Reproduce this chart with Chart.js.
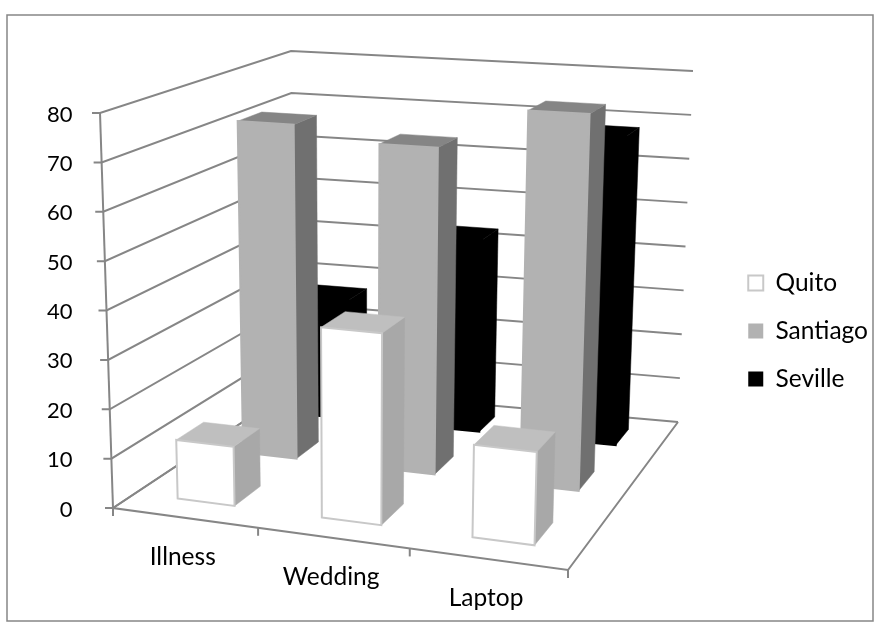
<!DOCTYPE html>
<html>
<head>
<meta charset="utf-8">
<title>3D columns</title>
<script src="https://cdn.jsdelivr.net/npm/chart.js@4"></script>
<style>
    html, body { margin: 0; background: #fff; overflow: hidden; }
    canvas { display: block; }
</style>
</head>
<body>
<canvas id="chart" width="880" height="635"></canvas>
<script>
const categories = ['Illness', 'Wedding', 'Laptop'];
const seriesNames = ['Quito', 'Santiago', 'Seville'];
const quito = [12, 38, 18];
const santiago = [72, 69, 78];
const seville = [27, 43, 68];

const frontColors = ['#ffffff', '#b2b2b2', '#000000'];
const sideColors = ['#a8a8a8', '#707070', '#000000'];
const topColors = ['#bfbfbf', '#858585', '#000000'];
const edgeColors = ['#c8c8c8', '#b2b2b2', '#000000'];
const lineColor = '#868686';
const fontName = 'Lato, "Open Sans", sans-serif';

// screen corners of the 3d box: b = floor, t = value 80; l/r, front/back
const box = {
    blf: [113, 508], brf: [568, 570], brb: [678, 422], blb: [294, 388],
    tlf: [100, 113], trf: [580, 143], trb: [693, 71], tlb: [291, 51],
};
const rowHalfDepth = 0.066;

const mix = (a, b, t) => [a[0] + (b[0] - a[0]) * t, a[1] + (b[1] - a[1]) * t];

// perspective spacing along the width and the depth of the floor
const warpU = (u) => u - 0.065 * u * (1 - u);
const warpW = (w) => w + 0.27 * w * (1 - w);

// u along categories, v up the value axis, w into the depth (all 0..1)
const project = (u, v, w) => {
    const uu = warpU(u);
    const ww = warpW(w);
    const bottom = mix(mix(box.blf, box.brf, uu), mix(box.blb, box.brb, uu), ww);
    const top = mix(mix(box.tlf, box.trf, uu), mix(box.tlb, box.trb, uu), ww);
    return mix(bottom, top, v);
};

const polygon = (ctx, points, fill, stroke) => {
    ctx.beginPath();
    points.forEach((p, i) => (i ? ctx.lineTo(p[0], p[1]) : ctx.moveTo(p[0], p[1])));
    ctx.closePath();
    ctx.fillStyle = fill;
    ctx.fill();
    ctx.strokeStyle = stroke || fill;
    ctx.lineWidth = stroke ? 2 : 0.5;
    ctx.stroke();
};

const polyline = (ctx, points) => {
    ctx.beginPath();
    points.forEach((p, i) => (i ? ctx.lineTo(p[0], p[1]) : ctx.moveTo(p[0], p[1])));
    ctx.stroke();
};

const drawFrame = (chart) => {
    const { ctx, scales } = chart;
    const y = scales.y;
    ctx.strokeStyle = lineColor;
    ctx.lineWidth = 2;
    y.ticks.forEach((tick) => {
        const v = (y.bottom - y.getPixelForValue(tick.value)) / (y.bottom - y.top);
        const front = project(0, v, 0);
        polyline(ctx, [[front[0] - 8, front[1]], front, project(0, v, 1), project(1, v, 1)]);
    });
    polyline(ctx, [project(0, 0, 0), project(0, 1, 0)]);
    polyline(ctx, [project(0, 0, 1), project(0, 0, 0), project(1, 0, 0), project(1, 0, 1)]);
    for (let i = 0; i <= categories.length; i++) {
        const p = project(i / categories.length, 0, 0);
        polyline(ctx, [p, [p[0], p[1] + 8]]);
    }
};

const drawBars = (chart) => {
    const { ctx, scales, chartArea } = chart;
    const width = chartArea.right - chartArea.left;
    const height = chartArea.bottom - chartArea.top;
    for (let d = chart.data.datasets.length - 1; d >= 0; d--) {
        const z = (d + 0.5) / chart.data.datasets.length;
        const w0 = z - rowHalfDepth;
        const w1 = z + rowHalfDepth;
        chart.getDatasetMeta(d).data.forEach((bar) => {
            const u0 = (bar.x - bar.width / 2 - chartArea.left) / width;
            const u1 = (bar.x + bar.width / 2 - chartArea.left) / width;
            const v = (scales.y.bottom - bar.y) / height;
            polygon(ctx, [project(u1, 0, w0), project(u1, 0, w1), project(u1, v, w1), project(u1, v, w0)], sideColors[d]);
            polygon(ctx, [project(u0, v, w0), project(u1, v, w0), project(u1, v, w1), project(u0, v, w1)], topColors[d]);
            polygon(ctx, [project(u0, 0, w0), project(u1, 0, w0), project(u1, v, w0), project(u0, v, w0)], frontColors[d], edgeColors[d]);
        });
    }
};

const drawCategoryLabels = (chart) => {
    const { ctx, scales } = chart;
    ctx.fillStyle = '#000';
    ctx.font = '24.5px ' + fontName;
    ctx.textAlign = 'center';
    ctx.textBaseline = 'middle';
    categories.forEach((name, i) => {
        const u = (scales.x.getPixelForValue(i) - chart.chartArea.left) / (chart.chartArea.right - chart.chartArea.left);
        const p = project(u, 0, 0);
        ctx.fillText(scales.x.getLabelForValue(i), p[0] - 2, p[1] + 39);
    });
};

const box3d = {
    id: 'box3d',
    afterLayout(chart) {
        // legend sits lower than the middle of the plot
        chart.legend.top += 19;
        chart.legend.bottom += 19;
    },
    beforeDraw(chart) {
        const { ctx } = chart;
        ctx.save();
        ctx.strokeStyle = lineColor;
        ctx.lineWidth = 1.5;
        ctx.strokeRect(7, 15, 866, 606);
        ctx.restore();
    },
    beforeDatasetsDraw(chart) {
        const { ctx } = chart;
        ctx.save();
        drawFrame(chart);
        drawBars(chart);
        drawCategoryLabels(chart);
        ctx.restore();
        return false;
    },
};

new Chart(document.getElementById('chart').getContext('2d'), {
    type: 'bar',
    data: {
        labels: categories,
        datasets: [quito, santiago, seville].map((values, i) => ({
            label: seriesNames[i],
            data: values,
            backgroundColor: i === 0 ? '#ffffff' : frontColors[i],
            borderColor: edgeColors[i],
            borderWidth: i === 0 ? 2 : 0,
            grouped: false,
            barPercentage: 0.4,
            categoryPercentage: 1,
        })),
    },
    options: {
        responsive: false,
        animation: false,
        layout: { padding: { top: 114.5, bottom: 125.5, left: 27, right: 2 } },
        scales: {
            x: { display: false },
            y: {
                min: 0,
                max: 80,
                grid: { display: false, drawTicks: false },
                border: { display: false },
                ticks: { stepSize: 10, padding: 20, color: '#000', font: { family: fontName, size: 22 } },
                afterFit(scale) {
                    scale.paddingTop = 0;
                    scale.paddingBottom = 0;
                },
            },
        },
        plugins: {
            tooltip: { enabled: false },
            legend: {
                position: 'right',
                labels: { boxWidth: 15, boxHeight: 15, padding: 23.5, color: '#000', font: { family: fontName, size: 24.5 } },
            },
        },
    },
    plugins: [box3d],
});
</script>
</body>
</html>
